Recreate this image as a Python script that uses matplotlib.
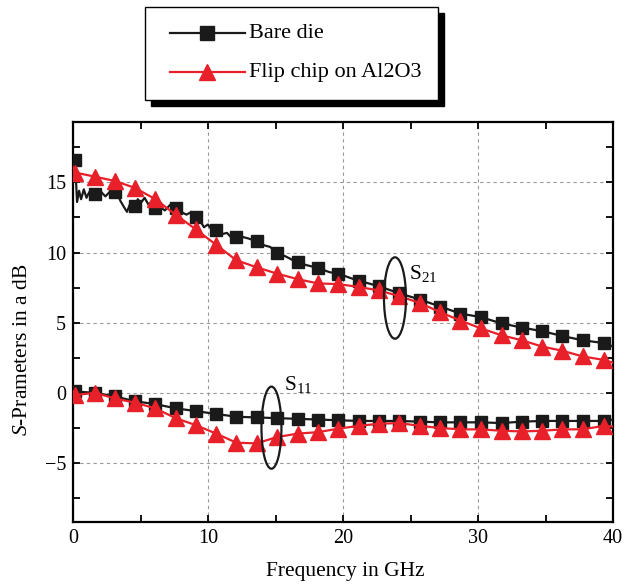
import matplotlib
matplotlib.use("Agg")
import matplotlib.pyplot as plt
from matplotlib.lines import Line2D
from matplotlib.patches import Rectangle, Ellipse

plt.rcParams['font.family'] = ['Liberation Serif', 'DejaVu Serif']
plt.rcParams['mathtext.fontset'] = 'custom'
plt.rcParams['mathtext.rm'] = 'Liberation Serif'
plt.rcParams['mathtext.it'] = 'Liberation Serif:italic'
plt.rcParams['font.size'] = 14
plt.rcParams['axes.unicode_minus'] = True

# marker frequencies in GHz (same for all four curves)
mk_freq = [0.15, 1.65, 3.1, 4.6, 6.1, 7.6, 9.1, 10.6, 12.1, 13.6, 15.1, 16.65, 18.15,
           19.65, 21.15, 22.65, 24.15, 25.7, 27.2, 28.7, 30.2, 31.75, 33.25, 34.75,
           36.25, 37.75, 39.3]

# S21 values at markers
bare_s21_mk = [16.6, 14.2, 14.3, 13.3, 13.2, 13.2, 12.5, 11.6, 11.1, 10.8, 10.0, 9.3, 8.9,
               8.5, 8.0, 7.6, 7.1, 6.65, 6.15, 5.65, 5.4, 4.95, 4.65, 4.4, 4.05, 3.75, 3.55]
flip_s21_mk = [15.7, 15.4, 15.1, 14.6, 13.8, 12.7, 11.65, 10.55, 9.45, 8.95, 8.5, 8.1, 7.8,
               7.75, 7.55, 7.3, 6.9, 6.4, 5.75, 5.15, 4.6, 4.1, 3.75, 3.3, 3.0, 2.6, 2.35]

# S11 values at markers
bare_s11_mk = [0.1, 0.0, -0.25, -0.6, -0.8, -1.1, -1.3, -1.5, -1.7, -1.75, -1.8, -1.85, -1.9,
               -1.95, -2.0, -2.0, -2.0, -2.05, -2.1, -2.1, -2.1, -2.15, -2.05, -2.0, -2.0,
               -2.0, -2.0]
flip_s11_mk = [-0.15, 0.0, -0.4, -0.7, -1.1, -1.8, -2.3, -2.9, -3.55, -3.6, -3.15, -2.9, -2.8,
               -2.55, -2.35, -2.2, -2.15, -2.35, -2.5, -2.6, -2.6, -2.7, -2.75, -2.7, -2.6,
               -2.6, -2.35]

# measured trace of bare die S21 (noisy at low frequency)
bare_s21_f = [0.0, 0.15, 0.3, 0.45, 0.6, 0.8, 1.0, 1.2, 1.6, 2.0, 2.4, 2.8, 3.1, 3.3, 3.5,
              3.8, 4.0, 4.2, 4.6, 4.8, 5.0, 5.3, 5.6, 6.1, 6.4, 6.8, 7.2, 7.6, 8.0, 8.4, 8.8,
              9.1, 9.4, 9.7, 10.0, 10.3, 10.6, 11.0, 11.4, 11.8, 12.1, 12.6, 13.0, 13.6,
              14.2, 14.6, 15.1, 15.8, 16.2, 16.65, 17.3, 18.15, 19.0, 19.65, 20.5, 21.15,
              22.65, 24.15, 25.7, 27.2, 28.7, 30.2, 31.75, 33.25, 34.75, 36.25, 37.75,
              39.3, 40.0]
bare_s21_v = [16.6, 16.6, 13.6, 14.4, 13.8, 14.5, 13.9, 14.3, 14.2, 14.4, 14.0, 14.4, 14.3,
              14.2, 13.7, 13.2, 12.9, 13.4, 13.3, 13.8, 13.5, 13.9, 13.4, 13.2, 13.3, 13.0,
              13.4, 13.2, 12.9, 12.7, 12.9, 12.5, 12.3, 11.8, 12.0, 11.6, 11.6, 11.3, 11.4,
              11.0, 11.1, 11.1, 11.0, 10.8, 10.5, 10.4, 10.0, 9.7, 9.5, 9.3, 9.1, 8.9, 8.6,
              8.5, 8.2, 8.0, 7.6, 7.1, 6.65, 6.15, 5.65, 5.4, 4.95, 4.65, 4.4, 4.05, 3.75,
              3.55, 3.3]

# curve end points at 0 and 40 GHz
flip_s21_ends = [16.1, 2.15]
bare_s11_ends = [0.0, -1.9]
flip_s11_ends = [-0.1, -2.4]

fig = plt.figure(figsize=(6.28, 5.85), dpi=100)
ax = fig.add_axes([73 / 628, 1 - 522 / 585, 540 / 628, 400 / 585])

black = '#1a1a1a'
red = '#e8202a'


def with_ends(vals, ends):
    return [0.0] + mk_freq + [40.0], [ends[0]] + vals + [ends[1]]


# bare die
ax.plot(bare_s21_f, bare_s21_v, color=black, lw=1.6, zorder=3)
ax.plot(mk_freq, bare_s21_mk, ls='none', marker='s', ms=9, color=black, zorder=3)
f, v = with_ends(bare_s11_mk, bare_s11_ends)
ax.plot(f, v, color=black, lw=1.6, zorder=3)
ax.plot(mk_freq, bare_s11_mk, ls='none', marker='s', ms=9, color=black, zorder=3)

# flip chip
f, v = with_ends(flip_s21_mk, flip_s21_ends)
ax.plot(f, v, color=red, lw=1.6, zorder=4)
ax.plot(mk_freq, flip_s21_mk, ls='none', marker='^', ms=11, color=red, zorder=4)
f, v = with_ends(flip_s11_mk, flip_s11_ends)
ax.plot(f, v, color=red, lw=1.6, zorder=4)
ax.plot(mk_freq, flip_s11_mk, ls='none', marker='^', ms=11, color=red, zorder=4)

ax.set_xlim(0, 40)
ax.set_ylim(-9.2, 19.3)
ax.set_xticks([0, 10, 20, 30, 40])
ax.set_xticks([5, 15, 25, 35], minor=True)
ax.set_yticks([-5, 0, 5, 10, 15])
ax.set_yticks([-7.5, -2.5, 2.5, 7.5, 12.5, 17.5], minor=True)
ax.tick_params(which='both', direction='in', top=True, right=True, width=1.3, length=5,
               labelsize=14.5)
ax.tick_params(axis='x', pad=5)
ax.tick_params(axis='y', pad=5)
for s in ax.spines.values():
    s.set_linewidth(1.6)
ax.grid(True, which='major', ls=(0, (3, 3)), color='#999999', lw=0.8)
ax.set_axisbelow(True)

ax.set_xlabel('Frequency in GHz', fontsize=15.5)
ax.set_ylabel(r'$\mathit{S}$-Prameters in a dB', fontsize=15.5)
ax.xaxis.set_label_coords(0.504, -0.1)
ax.yaxis.set_label_coords(-0.075, 0.43)

# annotations
ax.add_patch(Ellipse((23.85, 6.76), 1.63, 5.8, fill=False, ec=black, lw=1.6, zorder=5))
ax.add_patch(Ellipse((14.7, -2.48), 1.48, 5.85, fill=False, ec=black, lw=1.6, zorder=5))
ax.text(24.9, 8.1, r'S$_{21}$', fontsize=15.5, zorder=6)
ax.text(15.6, 0.2, r'S$_{11}$', fontsize=15.5, zorder=6)

# legend box with shadow above the axes
bx, by, bw, bh = 145 / 628, 1 - 100 / 585, 293 / 628, 93 / 585
fig.patches.append(Rectangle((bx + 6 / 628, by - 6 / 585), bw, bh, transform=fig.transFigure,
                             fc='black', ec='black', lw=1))
fig.patches.append(Rectangle((bx, by), bw, bh, transform=fig.transFigure,
                             fc='white', ec='black', lw=1))
legend_items = [('Bare die', black, 's', 9, 33), ('Flip chip on Al2O3', red, '^', 11, 72)]
for label, col, mk, ms, ypx in legend_items:
    yy = 1 - ypx / 585
    fig.lines.append(Line2D([170 / 628, 207 / 628, 245 / 628], [yy, yy, yy],
                            transform=fig.transFigure, color=col, lw=1.6, marker=mk,
                            ms=ms + 1, markevery=[1]))
    fig.text(249 / 628, yy, label, fontsize=16, va='center')

fig.savefig('out.png', dpi=100)
